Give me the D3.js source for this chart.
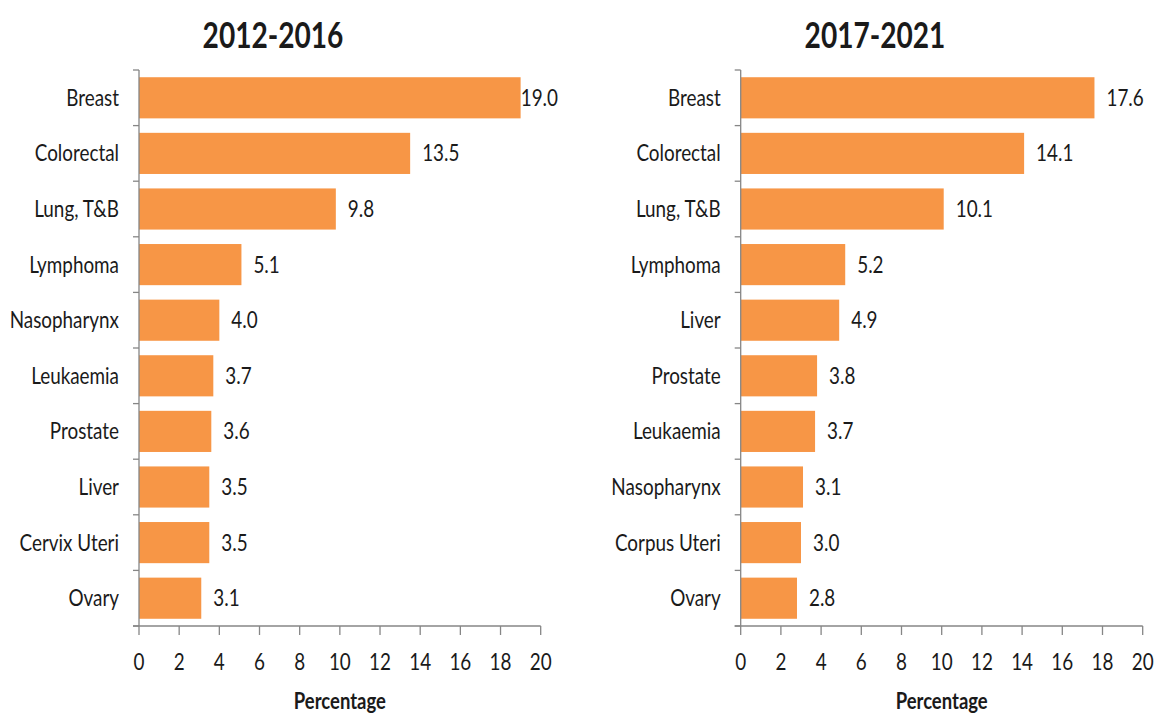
<!DOCTYPE html>
<html>
<head>
<meta charset="utf-8">
<script src="https://cdn.jsdelivr.net/npm/d3@7"></script>
<style>
  body { margin: 0; background: #fff; }
  text { font-family: Lato, "Open Sans", sans-serif; fill: #1a1a1a; }
</style>
</head>
<body>
<div id="container"></div>
<script>
const WIDTH = 1156;
const HEIGHT = 713;

// data
var cats2012 = ["Breast", "Colorectal", "Lung, T&B", "Lymphoma", "Nasopharynx", "Leukaemia", "Prostate", "Liver", "Cervix Uteri", "Ovary"];
var vals2012 = [19.0, 13.5, 9.8, 5.1, 4.0, 3.7, 3.6, 3.5, 3.5, 3.1];
var cats2017 = ["Breast", "Colorectal", "Lung, T&B", "Lymphoma", "Liver", "Prostate", "Leukaemia", "Nasopharynx", "Corpus Uteri", "Ovary"];
var vals2017 = [17.6, 14.1, 10.1, 5.2, 4.9, 3.8, 3.7, 3.1, 3.0, 2.8];
var xTicks = [0, 2, 4, 6, 8, 10, 12, 14, 16, 18, 20];

const BAR_COLOR = "#F79646";
const AXIS_COLOR = "#868686";

var svg = d3.select("#container").append("svg")
    .attr("width", WIDTH)
    .attr("height", HEIGHT);

// narrow the text horizontally, the original uses a condensed face
var squeeze = function (sel, f) {
    sel.each(function () {
        var w = this.getComputedTextLength();
        d3.select(this).attr("textLength", w * f).attr("lengthAdjust", "spacingAndGlyphs");
    });
};

var drawPanel = function (left, right, titleX, title, cats, vals, labelLimit) {
    var data = cats.map(function (c, i) { return {cat: c, value: vals[i]}; });

    var x = d3.scaleLinear().domain([0, 20]).range([left, right]);
    var y = d3.scaleBand().domain(cats).range([70, 626])
        .paddingInner(0.26).paddingOuter(0.13);

    var g = svg.append("g");

    g.append("text")
        .attr("x", titleX)
        .attr("y", 48)
        .attr("text-anchor", "middle")
        .style("font-size", "36px")
        .style("font-weight", "bold")
        .text(title)
        .call(squeeze, 0.78);

    g.selectAll("rect.bar").data(data).enter().append("rect")
        .attr("class", "bar")
        .attr("x", x(0))
        .attr("y", function (d) { return y(d.cat); })
        .attr("width", function (d) { return x(d.value) - x(0); })
        .attr("height", y.bandwidth())
        .attr("fill", BAR_COLOR);

    // y axis: line with ticks at band boundaries
    var step = y.step();
    var bounds = d3.range(cats.length + 1).map(function (i) { return 70 + i * step; });
    g.append("line")
        .attr("x1", x(0)).attr("x2", x(0))
        .attr("y1", 70).attr("y2", 626)
        .attr("stroke", AXIS_COLOR).attr("stroke-width", 1.3);
    g.selectAll("line.ytick").data(bounds).enter().append("line")
        .attr("class", "ytick")
        .attr("x1", x(0) - 6).attr("x2", x(0))
        .attr("y1", function (d) { return d; }).attr("y2", function (d) { return d; })
        .attr("stroke", AXIS_COLOR).attr("stroke-width", 1.3);

    g.selectAll("text.cat").data(data).enter().append("text")
        .attr("class", "cat")
        .attr("x", x(0) - 20)
        .attr("y", function (d) { return y(d.cat) + y.bandwidth() / 2; })
        .attr("dy", "0.35em")
        .attr("text-anchor", "end")
        .style("font-size", "23px")
        .text(function (d) { return d.cat; })
        .call(squeeze, 0.82);

    // x axis
    g.append("line")
        .attr("x1", x(0) - 6).attr("x2", x(20))
        .attr("y1", 626).attr("y2", 626)
        .attr("stroke", AXIS_COLOR).attr("stroke-width", 1.3);
    g.selectAll("line.xtick").data(xTicks).enter().append("line")
        .attr("class", "xtick")
        .attr("x1", function (d) { return x(d); }).attr("x2", function (d) { return x(d); })
        .attr("y1", 626).attr("y2", 635)
        .attr("stroke", AXIS_COLOR).attr("stroke-width", 1.3);
    g.selectAll("text.xlab").data(xTicks).enter().append("text")
        .attr("class", "xlab")
        .attr("x", function (d) { return x(d); })
        .attr("y", 670)
        .attr("text-anchor", "middle")
        .style("font-size", "23px")
        .text(function (d) { return d; })
        .call(squeeze, 0.82);

    g.append("text")
        .attr("x", (x(0) + x(20)) / 2)
        .attr("y", 709)
        .attr("text-anchor", "middle")
        .style("font-size", "22px")
        .style("font-weight", "bold")
        .text("Percentage")
        .call(squeeze, 0.84);

    // value labels, pushed back inside the plot when they would overflow
    g.selectAll("text.val").data(data).enter().append("text")
        .attr("class", "val")
        .attr("y", function (d) { return y(d.cat) + y.bandwidth() / 2; })
        .attr("dy", "0.35em")
        .style("font-size", "23px")
        .text(function (d) { return d.value.toFixed(1); })
        .call(squeeze, 0.82)
        .attr("x", function (d) {
            var w = +this.getAttribute("textLength");
            return Math.min(x(d.value) + 12, labelLimit - w);
        });
};

drawPanel(139, 540.7, 273, "2012-2016", cats2012, vals2012, 558);
drawPanel(740.7, 1142.7, 875, "2017-2021", cats2017, vals2017, 1200);
</script>
</body>
</html>
